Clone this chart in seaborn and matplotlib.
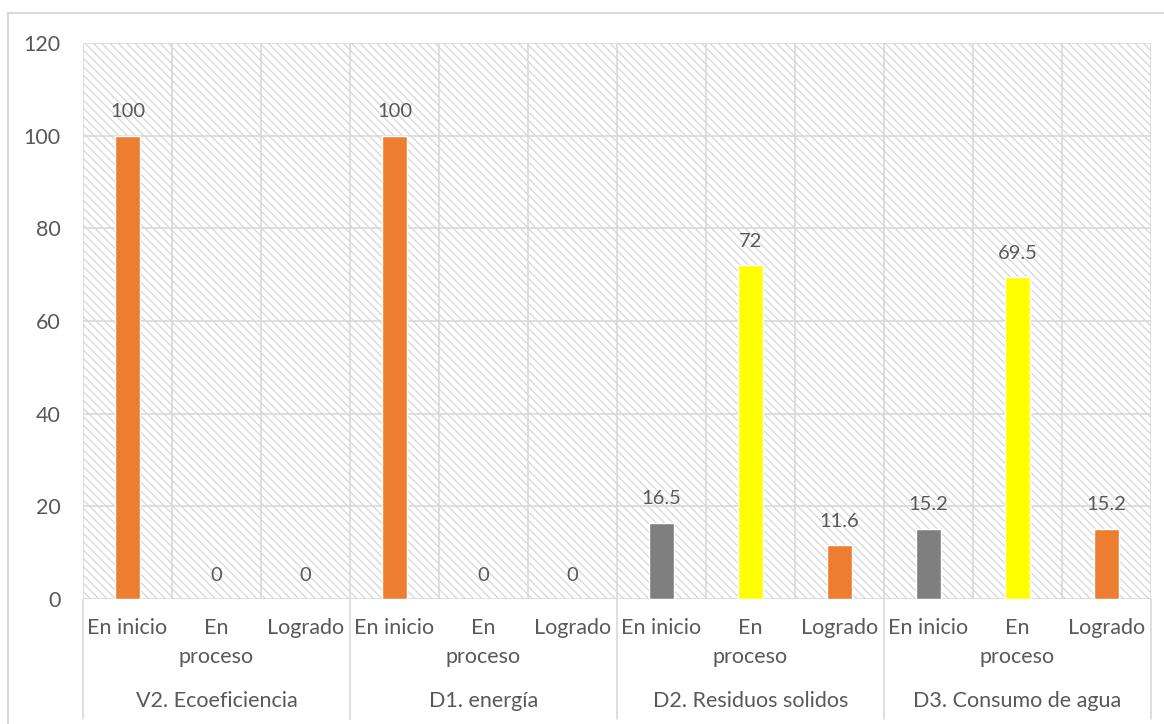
import matplotlib
matplotlib.use("Agg")
import matplotlib.pyplot as plt
from matplotlib.patches import Rectangle
import seaborn as sns
import pandas as pd

groups = ["V2. Ecoeficiencia", "D1. energía", "D2. Residuos solidos", "D3. Consumo de agua"]
levels = ["En inicio", "En\nproceso", "Logrado"]
values = [100, 0, 0,
          100, 0, 0,
          16.5, 72, 11.6,
          15.2, 69.5, 15.2]
y_ticks = [0, 20, 40, 60, 80, 100, 120]

ORANGE, GRAY, YELLOW = "#ED7D31", "#7F7F7F", "#FFFF00"
bar_colors = [ORANGE, YELLOW, ORANGE,
              ORANGE, YELLOW, ORANGE,
              GRAY, YELLOW, ORANGE,
              GRAY, YELLOW, ORANGE]

sns.set_theme(style="white")
plt.rcParams["font.family"] = ["Lato", "DejaVu Sans"]
plt.rcParams["hatch.linewidth"] = 0.8
TXT = "#595959"
GRID = "#d9d9d9"

keys = [f"{g}|{l}" for g in groups for l in levels]
df = pd.DataFrame({"key": keys, "value": values})

fig = plt.figure(figsize=(11.64, 7.24), dpi=100)
L, R, T, B = 83, 1151, 43, 599
ax = fig.add_axes([L/1164, 1-B/724, (R-L)/1164, (B-T)/724])

# outer frame (right and bottom edges run past the image)
fig.patches.append(Rectangle((8/1164, -0.01), 1.0, 1-13/724 + 0.01, transform=fig.transFigure,
                             fill=False, edgecolor=GRID, linewidth=1.5, zorder=0))

# hatched background
ax.set_facecolor("white")
ax.add_patch(Rectangle((-0.5, 0), 12, 120, facecolor="white", edgecolor="#d2d2d2",
                       hatch="\\\\\\\\", linewidth=0, zorder=0))

sns.barplot(data=df, x="key", y="value", hue="key", palette=bar_colors,
            legend=False, width=0.28, ax=ax, zorder=3, saturation=1, order=keys)

for c in ax.containers:
    ax.bar_label(c, labels=[f"{v:g}" for v in c.datavalues], padding=11,
                 fontsize=14.5, color=TXT)

ax.set_xlim(-0.5, 11.5)
ax.set_ylim(0, 120)
ax.set_yticks(y_ticks)
ax.set_yticklabels([str(t) for t in y_ticks], fontsize=15.5, color=TXT)
ax.set_xticks(range(12))
ax.set_xticklabels(levels * 4, fontsize=15.5, color=TXT, linespacing=1.55, va="top")
ax.tick_params(axis="both", length=0)
ax.tick_params(axis="x", pad=14)
ax.tick_params(axis="y", pad=16)
ax.set_xlabel("")
ax.set_ylabel("")

# grid
for y in y_ticks:
    ax.axhline(y, color=GRID, linewidth=1.2, zorder=1)
for x in range(13):
    ax.axvline(x - 0.5, color=GRID, linewidth=1.2, zorder=1)
for s in ax.spines.values():
    s.set_visible(False)

# group separators and labels
for i in range(5):
    ax.plot([i*3 - 0.5, i*3 - 0.5], [0, -0.215], transform=ax.get_xaxis_transform(),
            color=GRID, linewidth=1.2, clip_on=False)
for i, g in enumerate(groups):
    ax.text(i*3 + 1, -0.184, g, transform=ax.get_xaxis_transform(), ha="center",
            va="center", fontsize=15.5, color=TXT)

fig.savefig("out.png", dpi=100)
